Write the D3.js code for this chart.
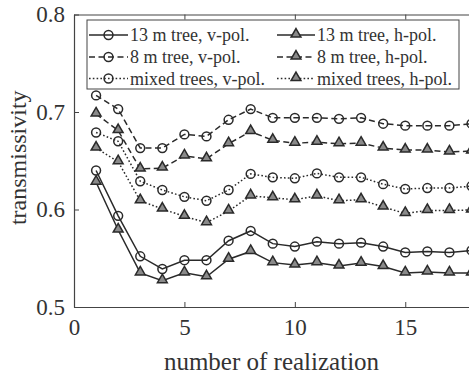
<!DOCTYPE html>
<html>
<head>
<meta charset="utf-8">
<script src="https://cdn.jsdelivr.net/npm/d3@7"></script>
<style>
  html, body { margin: 0; padding: 0; background: #fff; overflow: hidden; }
  svg { display: block; overflow: visible; }
  text { font-family: "Liberation Serif", "Times New Roman", serif; fill: #333; }
</style>
</head>
<body>
<svg id="chart" width="469" height="379"></svg>
<script>
// Realization index 1..18
const realizations = d3.range(1, 19);

const tree13V = [0.640, 0.5935, 0.552, 0.539, 0.548, 0.548, 0.568, 0.578, 0.565, 0.562, 0.567, 0.565, 0.566, 0.562, 0.556, 0.557, 0.556, 0.558];
const tree13H = [0.628, 0.579, 0.535, 0.527, 0.535, 0.531, 0.549, 0.557, 0.5455, 0.543, 0.5455, 0.542, 0.545, 0.5415, 0.535, 0.536, 0.535, 0.535];
const tree8V  = [0.717, 0.703, 0.663, 0.663, 0.677, 0.675, 0.692, 0.703, 0.694, 0.694, 0.694, 0.693, 0.694, 0.688, 0.686, 0.686, 0.686, 0.688];
const tree8H  = [0.698, 0.681, 0.6415, 0.6425, 0.655, 0.652, 0.6675, 0.680, 0.671, 0.668, 0.669, 0.6675, 0.668, 0.663, 0.661, 0.661, 0.659, 0.660];
const mixedV  = [0.679, 0.670, 0.629, 0.620, 0.613, 0.609, 0.620, 0.6365, 0.633, 0.632, 0.637, 0.633, 0.633, 0.626, 0.621, 0.622, 0.622, 0.624];
const mixedH  = [0.663, 0.649, 0.609, 0.6005, 0.593, 0.5865, 0.5985, 0.614, 0.612, 0.610, 0.614, 0.609, 0.610, 0.6025, 0.596, 0.599, 0.599, 0.5995];

const seriesNames = ["13 m tree, v-pol.", "13 m tree, h-pol.", "8 m tree, v-pol.", "8 m tree, h-pol.", "mixed trees, v-pol.", "mixed trees, h-pol."];
const xTicks = [0, 5, 10, 15];
const yTicks = [0.5, 0.6, 0.7, 0.8];

const series = [
  { name: seriesNames[0], values: tree13V, dash: null,      marker: "circle" },
  { name: seriesNames[1], values: tree13H, dash: null,      marker: "triangle" },
  { name: seriesNames[2], values: tree8V,  dash: "6,3.5",   marker: "circle" },
  { name: seriesNames[3], values: tree8H,  dash: "6,3.5",   marker: "triangle" },
  { name: seriesNames[4], values: mixedV,  dash: "1.6,2.2", marker: "circle" },
  { name: seriesNames[5], values: mixedH,  dash: "1.6,2.2", marker: "triangle" }
];

const svg = d3.select("#chart");
const plot = { left: 74, top: 14.5, bottom: 307, right: 471.5 };

const x = d3.scaleLinear().domain([0, 18]).range([plot.left, plot.right]);
const y = d3.scaleLinear().domain([0.5, 0.8]).range([plot.bottom, plot.top]);

const ink = "#2a2a2a";
const axisColor = "#444";

// Axes box (left, bottom, top); inward ticks
const bottomAxis = d3.axisBottom(x).tickValues(xTicks).tickSizeInner(-5).tickSizeOuter(0).tickPadding(12).tickFormat(d3.format("d"));
const topAxis = d3.axisTop(x).tickValues(xTicks).tickSizeInner(-5).tickSizeOuter(0).tickFormat("");
const leftAxis = d3.axisLeft(y).tickValues(yTicks).tickSizeInner(-5).tickSizeOuter(0).tickPadding(9).tickFormat(d3.format(".1f"));

function styleAxis(g) {
  g.select(".domain").attr("stroke", axisColor).attr("stroke-width", 1.2);
  g.selectAll(".tick line").attr("stroke", axisColor).attr("stroke-width", 1);
  g.selectAll(".tick text").attr("fill", "#333").style("font-family", "Liberation Serif, Times New Roman, serif").style("font-size", "23px");
}

svg.append("g").attr("transform", `translate(0,${plot.bottom})`).call(bottomAxis).call(styleAxis);
svg.append("g").attr("transform", `translate(0,${plot.top})`).call(topAxis).call(styleAxis);
svg.append("g").attr("transform", `translate(${plot.left},0)`).call(leftAxis).call(styleAxis);

// Axis titles
svg.append("text")
  .attr("x", 271.5).attr("y", 370)
  .attr("text-anchor", "middle")
  .style("font-size", "25px")
  .text("number of realization");

svg.append("text")
  .attr("transform", `translate(26,${(plot.top + plot.bottom) / 2 - 3}) rotate(-90)`)
  .attr("text-anchor", "middle")
  .style("font-size", "24px")
  .text("transmissivity");

// Marker symbols
const circleSym = d3.symbol().type(d3.symbolCircle).size(62);
const triSym = d3.symbol().type(d3.symbolTriangle).size(42);

function drawMarker(g, type, cx, cy) {
  g.append("path")
    .attr("d", type === "circle" ? circleSym() : triSym())
    .attr("transform", `translate(${cx},${type === "circle" ? cy : cy - 0.8})`)
    .attr("fill", type === "circle" ? "none" : "#8a8a8a")
    .attr("stroke", ink)
    .attr("stroke-width", 1.5);
}

const line = d3.line().x((d, i) => x(realizations[i])).y(d => y(d));

const dataLayer = svg.append("g");
series.forEach(s => {
  const g = dataLayer.append("g");
  g.append("path")
    .attr("d", line(s.values))
    .attr("fill", "none")
    .attr("stroke", ink)
    .attr("stroke-width", 1.5)
    .attr("stroke-dasharray", s.dash);
  s.values.forEach((v, i) => drawMarker(g, s.marker, x(realizations[i]), y(v)));
});

// Legend
const legend = svg.append("g");
legend.append("rect")
  .attr("x", 87).attr("y", 20).attr("width", 372).attr("height", 69)
  .attr("fill", "#fff").attr("stroke", axisColor).attr("stroke-width", 1);

const colX = [{ x0: 89, x1: 128, tx: 130 }, { x0: 277, x1: 315, tx: 317 }];
const rowY = [35, 57, 78.5];
series.forEach((s, i) => {
  const c = colX[i % 2];
  const ry = rowY[Math.floor(i / 2)];
  legend.append("line")
    .attr("x1", c.x0).attr("x2", c.x1).attr("y1", ry).attr("y2", ry)
    .attr("stroke", ink).attr("stroke-width", 1.5)
    .attr("stroke-dasharray", s.dash);
  drawMarker(legend, s.marker, (c.x0 + c.x1) / 2, ry);
  legend.append("text")
    .attr("x", c.tx).attr("y", ry + 6)
    .style("font-size", "18px")
    .text(s.name);
});
</script>
</body>
</html>
